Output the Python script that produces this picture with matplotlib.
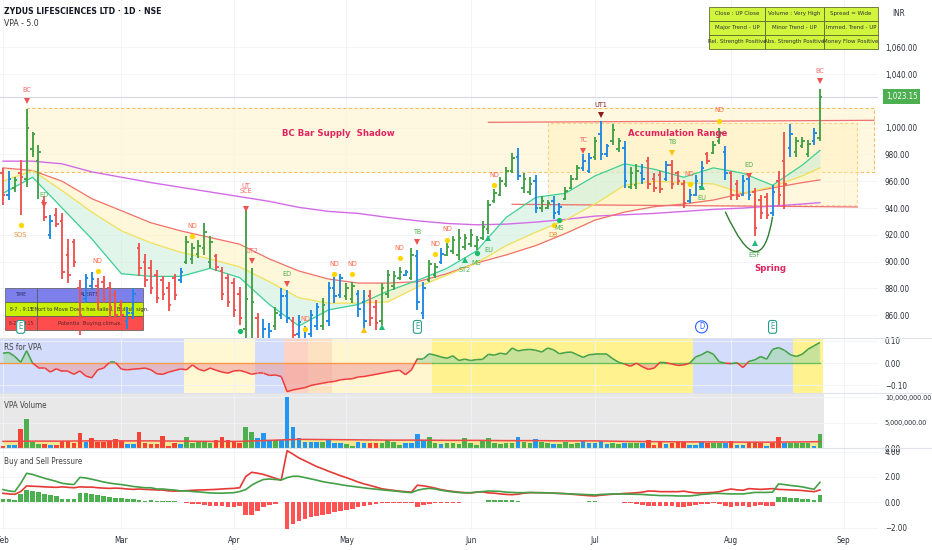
import os

import matplotlib
matplotlib.use("Agg")
import matplotlib.pyplot as plt
import matplotlib.transforms as mtransforms
import numpy as np
from matplotlib import font_manager
from matplotlib.collections import LineCollection
from matplotlib.patches import Rectangle, PathPatch
from matplotlib.path import Path

# the screenshot text is narrow; use a condensed face when one is installed
narrow = None
best = 99
prefs = ["LiberationSansNarrow", "DejaVuSansCondensed", "RobotoCondensed", "NotoSans-Condensed",
         "NotoSansCondensed", "OpenSans_Condensed", "OpenSansCondensed"]
for f in font_manager.fontManager.ttflist:
    base = os.path.basename(f.fname).replace(" ", "")
    if any(bad in base for bad in ("Mono", "Serif", "Italic", "Oblique", "Bold", "Light",
                                   "Thin", "Black", "Medium", "Semi", "Extra")):
        continue
    for rank, p in enumerate(prefs):
        if base.startswith(p) and rank < best:
            narrow, best = f, rank
if narrow is not None:
    plt.rcParams["font.family"] = [narrow.name, "DejaVu Sans"]
    plt.rcParams["font.stretch"] = "condensed"
    FS = 1.0
else:
    plt.rcParams["font.family"] = ["Liberation Sans", "DejaVu Sans"]
    FS = 0.88

# ---------------- data ----------------
highs = [
    970, 968, 963, 976, 1014, 997, 987, 949, 935, 940,
    936, 917, 917, 886, 891, 892, 888, 889, 885, 879,
    871, 866, 880, 914, 906, 901, 894, 889, 885, 891,
    895, 919, 914, 916, 929, 919, 906, 896, 891, 888,
    881, 939, 895, 862, 857, 854, 866, 880, 879, 859,
    860, 852, 864, 869, 873, 885, 889, 891, 884, 885,
    879, 879, 879, 871, 884, 894, 893, 896, 894, 910,
    909, 885, 901, 899, 910, 914, 919, 924, 921, 924,
    919, 930, 946, 954, 963, 971, 981, 985, 966, 963,
    965, 949, 946, 949, 944, 956, 965, 972, 980, 981,
    993, 1005, 988, 1003, 992, 990, 971, 973, 973, 978,
    966, 968, 975, 976, 968, 961, 954, 965, 975, 982,
    990, 1000, 986, 968, 961, 965, 966, 955, 950, 951,
    957, 968, 997, 1003, 993, 993, 991, 1000, 1028.5]
lows = [
    942, 946, 952, 935, 956, 978, 947, 930, 917, 926,
    887, 884, 896, 845, 869, 879, 864, 869, 859, 854,
    857, 850, 857, 889, 881, 876, 869, 871, 863, 871,
    884, 898, 898, 903, 905, 895, 893, 871, 866, 859,
    853, 838, 832, 826, 836, 838, 849, 857, 854, 840,
    842, 836, 844, 849, 849, 852, 869, 873, 871, 869,
    859, 849, 852, 849, 853, 873, 879, 886, 889, 886,
    864, 857, 885, 888, 898, 904, 906, 901, 909, 911,
    909, 916, 921, 944, 949, 956, 966, 961, 951, 950,
    936, 937, 939, 932, 935, 946, 954, 961, 968, 966,
    976, 976, 978, 987, 982, 955, 954, 954, 958, 954,
    952, 951, 960, 954, 957, 940, 944, 949, 954, 973,
    980, 988, 961, 946, 946, 949, 946, 919, 932, 932,
    934, 942, 939, 978, 978, 985, 978, 987, 990]
opens = [
    966, 950, 955, 966, 962, 984, 975, 945, 920, 935,
    930, 905, 915, 880, 872, 882, 882, 885, 880, 875,
    868, 856, 862, 910, 900, 895, 890, 886, 880, 888,
    886, 900, 902, 906, 910, 900, 904, 893, 888, 884,
    876, 850, 840, 858, 840, 842, 852, 860, 874, 856,
    846, 840, 846, 852, 852, 856, 880, 875, 874, 872,
    876, 870, 874, 866, 856, 876, 882, 888, 890, 888,
    904, 862, 886, 890, 900, 905, 908, 905, 911, 913,
    912, 918, 924, 945, 950, 958, 968, 978, 955, 952,
    960, 940, 940, 945, 937, 947, 955, 962, 970, 968,
    978, 995, 980, 990, 984, 985, 956, 957, 966, 975,
    962, 965, 962, 972, 966, 958, 945, 950, 956, 980,
    981, 990, 982, 966, 958, 950, 962, 952, 946, 948,
    936, 960, 975, 985, 982, 986, 980, 990, 992]
closes = [
    950, 962, 961, 963, 1000, 995, 982, 933, 930, 928,
    892, 890, 900, 860, 888, 887, 870, 872, 866, 860,
    860, 862, 876, 895, 886, 880, 873, 876, 868, 875,
    892, 915, 910, 912, 922, 915, 896, 876, 870, 864,
    858, 872, 870, 835, 850, 848, 862, 874, 858, 845,
    855, 848, 860, 866, 868, 880, 874, 888, 880, 882,
    865, 856, 858, 854, 880, 890, 889, 892, 892, 905,
    870, 880, 898, 896, 906, 911, 916, 918, 918, 920,
    916, 926, 942, 951, 960, 968, 977, 964, 962, 958,
    940, 945, 944, 936, 941, 953, 962, 970, 975, 977,
    990, 980, 986, 998, 990, 960, 966, 968, 962, 958,
    955, 954, 972, 958, 960, 944, 950, 960, 970, 975,
    987, 996, 966, 950, 949, 960, 950, 925, 936, 935,
    952, 950, 958, 995, 990, 990, 988, 996, 1023.15]
bar_colors = ("rbgrgggrbr" "rrrrbbrrrr" "rbbrrrrrrr" "bgggggrrrr" "rggrbbgbbr"
              "bbbbgbbbgg" "bbrrggggbg" "bbggbggggg" "gggggggbgg" "bggbbgggbb"
              "gbbggbggbr" "rrbrrrbbbr" "ggbrrbbrrr" "brrbgggbg")

# moving averages, read every 5 bars
ma_idx = [0, 5, 10, 15, 20, 25, 30, 35, 40, 45, 50, 55, 60, 65, 70, 75, 80, 85,
          90, 95, 100, 105, 110, 115, 120, 125, 130, 135, 138]
ma_fast = [951, 963, 940, 917, 891, 889, 889, 895, 888, 868, 852, 864, 868, 878, 886,
           895, 908, 933, 948, 951, 964, 973, 969, 963, 970, 966, 957, 972, 983]
ma_mid = [960, 968, 953, 937, 923, 914, 907, 902, 896, 885, 873, 869, 869, 870, 881,
          890, 899, 912, 922, 931, 943, 957, 960, 959, 958, 951, 956, 964, 970]
ma_slow = [970, 968, 960, 947, 938, 929, 923, 918, 913, 902, 893, 887, 884, 884, 885,
           891, 899, 905, 912, 921, 931, 937, 941, 943, 946, 951, 955, 959, 961]
ma_long = [975, 975, 973, 967, 963, 959, 955.5, 952, 948.5, 945, 940.5, 937.5, 936,
           933, 930.5, 928.5, 927.5, 928, 929.5, 931.5, 934, 935, 936, 937.5, 939,
           940, 941.5, 943, 944]

# volume (millions)
volume_m = [
    0.39, 0.59, 0.59, 3.66, 5.75, 1.24, 0.78, 0.78, 0.59, 0.59,
    1.37, 1.37, 1.05, 3.0, 1.11, 1.9, 1.11, 1.24, 1.44, 1.76,
    1.37, 0.72, 0.72, 3.2, 0.92, 0.78, 0.78, 2.41, 0.46, 0.92,
    0.72, 2.09, 0.92, 1.24, 1.24, 1.05, 1.57, 2.09, 1.57, 1.37,
    1.05, 4.18, 3.2, 1.9, 2.87, 1.57, 1.57, 1.57, 10.07, 4.05,
    1.9, 1.24, 1.24, 1.24, 1.11, 1.57, 0.92, 0.92, 0.72, 0.46,
    1.11, 0.92, 0.92, 0.92, 0.92, 1.57, 1.11, 0.52, 0.92, 0.92,
    2.74, 1.57, 2.09, 0.92, 0.78, 0.92, 1.05, 0.78, 1.9, 1.05,
    0.52, 1.37, 1.9, 1.05, 0.78, 1.05, 1.05, 2.09, 1.18, 0.92,
    1.7, 1.11, 1.05, 0.78, 0.78, 1.18, 0.78, 0.92, 1.44, 1.05,
    1.05, 1.44, 0.78, 0.92, 0.78, 1.05, 0.92, 0.92, 1.05, 1.57,
    0.59, 1.18, 0.78, 0.92, 1.11, 1.18, 0.52, 0.65, 1.18, 1.05,
    0.92, 0.92, 1.05, 1.44, 0.65, 0.52, 1.18, 1.18, 0.92, 0.46,
    0.92, 2.09, 0.92, 0.92, 0.92, 0.92, 0.92, 0.46, 2.68]
volume_colors = ("rbbrgggrbr" "rrrrbrrrrr" "rbbrrrrrrr" "bgggggrrrr" "rggbbbgbbb"
                 "bbbbgbbbgg" "bbrrggggbb" "bbggbggggg" "gggggggbgg" "bggbggggbb"
                 "bbbggbggbr" "rrbrrrbbbr" "ggbrbbrrrb" "rrbggggbg")
volume_avg_m = [1.3, 1.35, 1.35, 1.4, 1.4, 1.4, 1.35, 1.3, 1.3, 1.5, 1.7, 1.65, 1.6,
                1.55, 1.55, 1.5, 1.5, 1.45, 1.45, 1.4, 1.4, 1.3, 1.25, 1.2, 1.2, 1.15,
                1.15, 1.2, 1.25]

rs_vpa = [
    0.045, 0.048, 0.03, 0.004, 0.056, 0.0, -0.02, -0.02, -0.04, -0.025,
    -0.037, -0.037, -0.05, -0.035, -0.058, -0.066, -0.03, -0.022, 0.003, 0.003,
    -0.027, -0.03, -0.027, -0.025, -0.022, -0.03, -0.048, -0.05, -0.04, -0.033,
    -0.026, -0.03, -0.008, -0.027, -0.035, -0.022, -0.032, -0.04, -0.045, -0.035,
    -0.033, -0.04, -0.05, -0.045, -0.045, -0.055, -0.053, -0.06, -0.128, -0.12,
    -0.115, -0.11, -0.1, -0.095, -0.09, -0.085, -0.082, -0.075, -0.072, -0.07,
    -0.062, -0.06, -0.055, -0.05, -0.045, -0.04, -0.035, -0.032, -0.052, -0.03,
    0.02, 0.02, 0.042, 0.036, 0.028, 0.022, 0.033, 0.012, 0.018, 0.012,
    0.016, 0.017, 0.04, 0.036, 0.045, 0.04, 0.068, 0.055, 0.06, 0.062,
    0.058, 0.05, 0.068, 0.06, 0.042, 0.048, 0.05, 0.038, 0.026, 0.038,
    0.04, 0.04, 0.04, 0.02, 0.004, -0.004, -0.014, 0.0, -0.016, -0.028,
    -0.022, 0.004, 0.002, -0.004, -0.01, -0.008, 0.0, 0.028, 0.038, 0.053,
    0.04, 0.006, 0.0, -0.002, 0.002, -0.02, 0.008, 0.015, 0.03, 0.018,
    0.062, 0.07, 0.058, 0.038, 0.03, 0.04, 0.063, 0.078, 0.093]
rs_bands = [(-0.5, 30.5, "#d3ddfb"), (30.5, 42.5, "#fff8d2"), (42.5, 47.5, "#d3ddfb"),
            (47.5, 51.5, "#fcd3c4"), (51.5, 55.5, "#fde2c2"), (55.5, 72.5, "#fff6d0"),
            (72.5, 116.5, "#fff28f"), (116.5, 133.5, "#d3ddfb"), (133.5, 138.5, "#fff28f")]

buy_pressure = [
    1.0, 0.9, 0.84, 1.5, 2.29, 2.2, 2.05, 1.9, 1.78, 1.65,
    1.5, 1.44, 1.4, 1.97, 1.92, 1.82, 1.72, 1.6, 1.52, 1.45,
    1.4, 1.33, 1.25, 1.2, 1.15, 1.15, 1.05, 1.05, 1.0, 0.97,
    0.9, 0.9, 0.85, 0.82, 0.78, 0.74, 0.72, 0.72, 0.74, 0.76,
    0.85, 1.0, 1.35, 1.6, 1.8, 1.84, 1.8, 1.76, 1.95, 2.06,
    2.05, 1.95, 1.85, 1.75, 1.63, 1.55, 1.48, 1.4, 1.32, 1.26,
    1.2, 1.14, 1.08, 1.04, 0.98, 0.94, 0.9, 0.85, 0.8, 0.76,
    0.95, 1.05, 1.1, 1.05, 0.95, 0.88, 0.82, 0.77, 0.75, 0.76,
    0.8, 0.85, 0.89, 0.88, 0.86, 0.8, 0.78, 0.76, 0.76, 0.78,
    0.76, 0.75, 0.75, 0.72, 0.7, 0.68, 0.66, 0.64, 0.62, 0.6,
    0.58, 0.62, 0.64, 0.66, 0.66, 0.65, 0.64, 0.63, 0.62, 0.58,
    0.56, 0.53, 0.53, 0.52, 0.5, 0.5, 0.5, 0.55, 0.62, 0.65,
    0.7, 0.7, 0.68, 0.66, 0.66, 0.66, 0.72, 0.78, 0.78, 0.78,
    0.8, 1.45, 1.4, 1.33, 1.28, 1.22, 1.12, 1.03, 1.58]
sell_pressure = [
    0.71, 0.66, 0.63, 0.85, 1.29, 1.27, 1.25, 1.22, 1.2, 1.18,
    1.22, 1.18, 1.15, 1.22, 1.2, 1.2, 1.15, 1.12, 1.1, 1.12,
    1.1, 1.05, 1.02, 1.05, 1.02, 1.0, 0.97, 0.97, 0.9, 0.88,
    0.9, 0.92, 0.95, 0.97, 0.98, 1.0, 1.02, 1.05, 1.08, 1.1,
    1.15, 2.03, 2.37, 2.3, 2.2, 2.05, 1.9, 1.75, 4.08, 3.8,
    3.5, 3.28, 3.05, 2.82, 2.65, 2.45, 2.28, 2.1, 1.95, 1.78,
    1.6, 1.45, 1.33, 1.2, 1.07, 1.0, 0.94, 0.88, 0.84, 0.8,
    1.35, 1.3, 1.22, 1.12, 1.0, 0.92, 0.86, 0.8, 0.76, 0.74,
    0.8, 0.82, 0.74, 0.72, 0.66, 0.62, 0.6, 0.64, 0.72, 0.76,
    0.76, 0.76, 0.74, 0.72, 0.7, 0.68, 0.64, 0.6, 0.56, 0.52,
    0.5, 0.56, 0.6, 0.64, 0.66, 0.7, 0.72, 0.75, 0.8, 0.89,
    0.88, 0.84, 0.84, 0.84, 0.84, 0.88, 0.8, 0.74, 0.74, 0.76,
    0.78, 0.84, 0.96, 1.05, 0.98, 0.95, 1.08, 1.05, 1.02, 1.05,
    1.08, 1.02, 1.0, 0.98, 0.96, 0.93, 0.88, 0.84, 0.97]

month_idx = [0, 20, 39, 58, 79, 100, 123, 142]
month_labels = ["Feb", "Mar", "Apr", "May", "Jun", "Jul", "Aug", "Sep"]

# VPA signals: bar, marker price, marker kind, label, label price
sig_idx = [4, 3, 7, 16, 32, 41, 42, 40, 48, 51, 56, 59, 61, 64, 67, 70, 73, 75, 78,
           80, 82, 83, 93, 94, 98, 101, 113, 116, 118, 121, 126, 127, 138]
sig_mark = ["rv", "yo", "rv", "yo", "yo", "rv", "rv", "go", "rv", "yo", "yo", "yo", "y^",
            "g^", "yo", "rv", "yo", "yo", "g^", "go", "g^", "yo", "yo", "go", "rv", "dv",
            "yv", "yo", "g^", "yo", "rv", "g^", "rv"]
sig_mark_p = [1019.9, 927.4, 942.3, 893.0, 919.2, 939.3, 900.5, 848.5, 883.4, 849.8,
              890.8, 890.8, 849.0, 851.3, 902.8, 914.7, 905.7, 916.2, 901.3, 906.5,
              917.7, 957.2, 927.4, 931.1, 982.6, 1009.5, 981.1, 958.0, 955.7, 1005.0,
              964.0, 914.0, 1034.9]
sig_text = ["BC", "SOS", "ED", "ND", "ND", "UT\nSCE", "UT2", "", "ED", "ND", "ND", "ND",
            "", "", "ND", "TB", "ND", "ND", "ST2", "MS", "EU", "ND", "DB", "MS", "TC",
            "UT1", "TB", "ND", "EU", "ND", "ED", "ESF", "BC"]
sig_text_p = [1028.1, 920.0, 949.8, 900.5, 926.6, 954.6, 908.0, 0, 890.9, 857.2, 898.3,
              898.3, 0, 0, 910.2, 922.2, 913.2, 924.4, 893.8, 899.0, 908.7, 964.7, 920.0,
              925.1, 990.8, 1016.9, 989.3, 965.4, 947.5, 1013.2, 972.2, 905.0, 1042.5]

event_idx = [3, 70, 118, 130]
event_kind = ["E", "E", "D", "E"]

# ---------------- styling ----------------
W, H = 932, 550
PLOT_R = 878
BAR_COL = {"g": "#43a047", "r": "#ef5350", "b": "#1e88e5"}
VOL_COL = {"g": "#4caf50", "r": "#f44336", "b": "#2196f3"}
MARK_STYLE = {"rv": ("v", "#ef5350"), "yo": ("o", "#ffd600"), "go": ("o", "#1db96a"),
              "g^": ("^", "#1fb97a"), "y^": ("^", "#ffc107"), "yv": ("v", "#ffc107"),
              "dv": ("v", "#8b1c1c")}
TEXT_COL = {"BC": "#f06b6b", "ND": "#ff6f4f", "UT\nSCE": "#f06b6b", "UT2": "#f06b6b",
            "TC": "#f06b6b", "SOS": "#e8913a", "DB": "#e8913a", "UT1": "#8b1c1c"}
GREEN_TEXT = "#4caf50"
AXIS_TXT = "#2a2e39"


def fx(px):
    return px / W


def fy(py):
    return 1 - py / H


fig = plt.figure(figsize=(W / 100, H / 100), dpi=100)
fig.patch.set_facecolor("white")

ax_price = fig.add_axes([0, fy(338), fx(PLOT_R), 338 / H])
ax_rs = fig.add_axes([0, fy(393), fx(PLOT_R), 55 / H], sharex=ax_price)
ax_vol = fig.add_axes([0, fy(448), fx(PLOT_R), 54 / H], sharex=ax_price)
ax_bsp = fig.add_axes([0, fy(530), fx(PLOT_R), 82 / H], sharex=ax_price)

for ax in (ax_price, ax_rs, ax_vol, ax_bsp):
    for s in ax.spines.values():
        s.set_visible(False)
    ax.yaxis.tick_right()
    ax.tick_params(axis="y", length=0, pad=5, labelsize=5.8 * FS, labelcolor=AXIS_TXT)
    ax.tick_params(axis="x", length=0, labelbottom=False)
    ax.set_facecolor("none")
    ax.grid(True, color="#f0f2f6", lw=0.6, zorder=0)
    ax.set_axisbelow(True)

ax_price.set_xlim(-0.5, (PLOT_R - 3) / 5.92)
ax_price.set_xticks(month_idx)

idx = np.arange(len(closes))

# ---------------- price panel ----------------
ax_price.set_ylim(843.0, 1095.3)
price_ticks = [860, 880, 900, 920, 940, 960, 980, 1000, 1040, 1060]
ax_price.set_yticks(price_ticks)
ax_price.set_yticklabels([f"{v:,.2f}" for v in price_ticks])

# supply shadow and accumulation range
ax_price.add_patch(Rectangle((4.1, 967), 147.1 - 4.1, 1014.6 - 967, facecolor="#fff6d5",
                             alpha=0.7, edgecolor="#f5a623", ls=(0, (3, 2)), lw=0.8, zorder=1))
ax_price.add_patch(Rectangle((92.1, 942.3), 144.3 - 92.1, 1003.3 - 942.3,
                             facecolor="#fff0b8", alpha=0.45, edgecolor="#f5a623",
                             ls=(0, (3, 2)), lw=0.8, zorder=1))
ax_price.plot([82, 147.1], [1004.0, 1005.5], color="#ef7070", lw=0.9, zorder=2)
ax_price.plot([86, 144.3], [942.8, 940.8], color="#ef7070", lw=0.9, zorder=2)
ax_price.axhline(1023.15, color="#d5d8df", lw=0.8, zorder=1)

# moving averages
ax_price.fill_between(ma_idx, ma_fast, ma_mid, color="#c9eed9", alpha=0.55, lw=0, zorder=1.5)
ax_price.fill_between(ma_idx, ma_mid, ma_slow, color="#fff3c2", alpha=0.6, lw=0, zorder=1.5)
ax_price.plot(ma_idx, ma_long, color="#d46be6", lw=1.0, zorder=2)
ax_price.plot(ma_idx, ma_slow, color="#f0706a", lw=0.9, zorder=2)
ax_price.plot(ma_idx, ma_mid, color="#f2e05a", lw=0.9, zorder=2)
ax_price.plot(ma_idx, ma_fast, color="#3ccf94", lw=0.9, zorder=2)

# alert table (bars are drawn on top of it)
tf = fig.transFigure
alert_rows = [("TIME", "ALERTS", "#7d80ea", "#2a2a66"),
              ("8-7  , 9:15", "Effort to Move Down has failed.  Bullish sign.", "#c8f000", "#333333"),
              ("8-25 , 9:15", "Potential Buying climax.", "#ff4d4d", "#552222")]
for r, (c1, c2, bg, tc) in enumerate(alert_rows):
    y0 = 288 + 14 * r
    for x0, x1, txt, size in ((5, 37, c1, 3.6), (37, 143, c2, 4.2)):
        ax_price.add_patch(Rectangle((fx(x0), fy(y0 + 14)), fx(x1 - x0), 14 / H,
                                     transform=tf, facecolor=bg, edgecolor="#555555",
                                     lw=0.5, zorder=2.5))
        ax_price.text(fx((x0 + x1) / 2), fy(y0 + 7), txt, transform=tf, ha="center",
                      va="center", fontsize=size * FS, color=tc, zorder=2.6)

# OHLC bars
cols = [BAR_COL[c] for c in bar_colors]
ax_price.vlines(idx, lows, highs, colors=cols, lw=1.35, zorder=4)
ax_price.hlines(opens, idx - 0.42, idx, colors=cols, lw=1.35, zorder=4)
ax_price.hlines(closes, idx, idx + 0.42, colors=cols, lw=1.35, zorder=4)

# signals
for i, mk, mp, txt, tp in zip(sig_idx, sig_mark, sig_mark_p, sig_text, sig_text_p):
    m, c = MARK_STYLE[mk]
    ax_price.plot(i, mp, marker=m, color=c, ms=3.8, mew=0, ls="none", zorder=5)
    if txt:
        ax_price.text(i, tp, txt, ha="center", va="center", fontsize=5.2 * FS,
                      linespacing=0.95, color=TEXT_COL.get(txt, GREEN_TEXT), zorder=5)

# spring curve
spring = Path([(122, 937.3), (128, 879.5), (130, 933.6)], [Path.MOVETO, Path.CURVE3, Path.CURVE3])
ax_price.add_patch(PathPatch(spring, facecolor="none", edgecolor="#2e7d32", lw=1.0, zorder=3))

for xi, yp, label in ((56.6, 996, "BC Bar Supply  Shadow"), (113.9, 996, "Accumulation Range"),
                      (129.6, 895, "Spring")):
    ax_price.text(xi, yp, label, ha="center", va="center", fontsize=6.8 * FS,
                  color="#e0245e", weight="semibold", zorder=5)

# earnings / dividend flags
for i, k in zip(event_idx, event_kind):
    ec = "#2a9d8f" if k == "E" else "#2962ff"
    style = "round,pad=0.25,rounding_size=0.3" if k == "E" else "circle,pad=0.2"
    ax_price.text(i, 851.3, k, ha="center", va="center", fontsize=5.5 * FS, color=ec,
                  zorder=6, bbox=dict(boxstyle=style, fc="white", ec=ec, lw=0.8))

# last price tag
blend = mtransforms.blended_transform_factory(ax_price.transAxes, ax_price.transData)
ax_price.text(1.009, closes[-1], f"{closes[-1]:,.2f}", transform=blend, ha="left",
              va="center", fontsize=5.8 * FS, color="white", zorder=7,
              bbox=dict(boxstyle="square,pad=0.35", fc="#4caf50", ec="none"))

# ---------------- RS panel ----------------
ax_rs.set_ylim(-0.134, 0.113)
ax_rs.set_yticks([-0.1, 0.0, 0.1])
ax_rs.set_yticklabels(["\u22120.10", "0.00", "0.10"])
for a, b, c in rs_bands:
    ax_rs.axvspan(a, b, color=c, lw=0, zorder=0.5)
rs = np.array(rs_vpa)
ax_rs.fill_between(idx, rs, 0, where=rs >= 0, interpolate=True, color="#9ed6a4",
                   alpha=0.55, lw=0, zorder=1)
ax_rs.fill_between(idx, rs, 0, where=rs < 0, interpolate=True, color="#f29a9a",
                   alpha=0.55, lw=0, zorder=1)
ax_rs.plot([-0.5, 72.5], [0, 0], color="#f59a4a", lw=1.0, zorder=2)
ax_rs.plot([72.5, 138], [0, 0], color="#6abf5a", lw=1.0, zorder=2)
pts = np.column_stack([idx, rs])
segs = np.stack([pts[:-1], pts[1:]], axis=1)
seg_cols = ["#43a047" if (a + b) >= 0 else "#ef3b3b" for a, b in zip(rs[:-1], rs[1:])]
ax_rs.add_collection(LineCollection(segs, colors=seg_cols, lw=1.1, zorder=3))

# ---------------- volume panel ----------------
ax_vol.set_ylim(0, 10.6)
ax_vol.set_yticks([0, 5, 10])
ax_vol.set_yticklabels(["0.00", "5,000,000.00", "10,000,000.00"])
for lab in ax_vol.get_yticklabels()[1:]:
    lab.set_fontsize(5.2 * FS)
ax_vol.axvspan(-0.5, 138.7, color="#e8e8e8", lw=0, zorder=0.2)
ax_vol.fill_between(ma_idx, 0, volume_avg_m, color="#f6e878", alpha=0.75, lw=0, zorder=1)
ax_vol.bar(idx, volume_m, width=0.78, color=[VOL_COL[c] for c in volume_colors], zorder=2)
ax_vol.plot(ma_idx, volume_avg_m, color="#f04848", lw=1.1, zorder=3)

# ---------------- buy / sell pressure ----------------
ax_bsp.set_ylim(-2.19, 4.29)
ax_bsp.set_yticks([-2, 0, 2, 4])
ax_bsp.set_yticklabels(["\u22122.00", "0.00", "2.00", "4.00"])
buy = np.array(buy_pressure)
sell = np.array(sell_pressure)
net = buy - sell
ax_bsp.bar(idx, net, width=0.78, color=np.where(net >= 0, "#4caf50", "#ff5252"), zorder=2)
ax_bsp.plot(idx, sell, color="#e53935", lw=1.2, zorder=3)
ax_bsp.plot(idx, buy, color="#43a047", lw=1.2, zorder=3)
ax_bsp.tick_params(axis="x", labelbottom=True, labelsize=5.8 * FS, labelcolor=AXIS_TXT, pad=4)
ax_bsp.set_xticklabels(month_labels)

# ---------------- figure-level text ----------------
for py in (338, 393, 448):
    fig.add_artist(plt.Line2D([0, 1], [fy(py), fy(py)], transform=tf, color="#e0e3eb", lw=0.8))

fig.text(fx(4), fy(12), "ZYDUS LIFESCIENCES LTD \u00b7 1D \u00b7 NSE", fontsize=6.2 * FS,
         weight="bold", color="#131722", va="center")
fig.text(fx(4), fy(24), "VPA - 5.0", fontsize=6.2 * FS, color="#333333", va="center")
fig.text(fx(892), fy(13), "INR", fontsize=5.8 * FS, color=AXIS_TXT, va="center")
fig.text(fx(4), fy(347), "RS for VPA", fontsize=5.8 * FS, color="#444444", va="center")
fig.text(fx(4), fy(406), "VPA Volume", fontsize=5.8 * FS, color="#444444", va="center")
fig.text(fx(4), fy(461), "Buy and Sell Pressure", fontsize=5.8 * FS, color="#444444", va="center")

# status table top right
status = [["Close : UP Close", "Volume : Very High", "Spread = Wide"],
          ["Major Trend - UP", "Minor Trend - UP", "Immed. Trend - UP"],
          ["Rel. Strength Positive", "Abs. Strength Positive", "Money Flow Positive"]]
col_x = [709, 765, 824, 878]
row_y = [6.7, 20.7, 34.7, 48.7]
for r in range(3):
    for c in range(3):
        fig.add_artist(Rectangle((fx(col_x[c]), fy(row_y[r + 1])), fx(col_x[c + 1] - col_x[c]),
                                 (row_y[r + 1] - row_y[r]) / H, transform=tf,
                                 facecolor="#d0f53c", edgecolor="#5d6b2c", lw=0.6, zorder=5))
        fig.text(fx((col_x[c] + col_x[c + 1]) / 2), fy((row_y[r] + row_y[r + 1]) / 2),
                 status[r][c], ha="center", va="center", fontsize=4.4 * FS, color="#333333",
                 zorder=6)

fig.savefig("out.png", dpi=100, facecolor="white")
